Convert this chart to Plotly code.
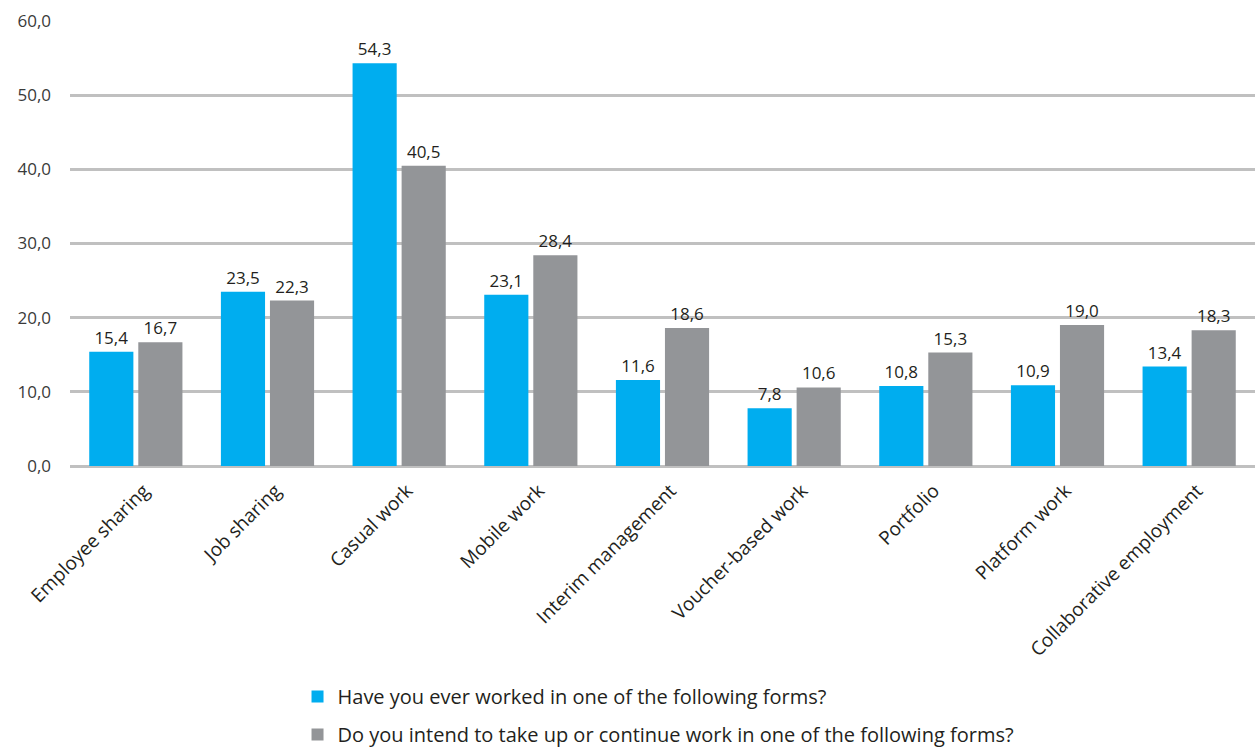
import plotly.graph_objects as go

categories = [
    "Employee sharing", "Job sharing", "Casual work", "Mobile work",
    "Interim management", "Voucher-based work", "Portfolio",
    "Platform work", "Collaborative employment",
]
ever_worked = [15.4, 23.5, 54.3, 23.1, 11.6, 7.8, 10.8, 10.9, 13.4]
intend_work = [16.7, 22.3, 40.5, 28.4, 18.6, 10.6, 15.3, 19.0, 18.3]

series_names = [
    "Have you ever worked in one of the following forms?",
    "Do you intend to take up or continue work in one of the following forms?",
]
y_ticks = [0, 10, 20, 30, 40, 50, 60]

FONT = "Open Sans"
TEXT_DARK = "#231f20"

fig = go.Figure()
for name, vals, color, grp in [
    (series_names[0], ever_worked, "#00adef", "a"),
    (series_names[1], intend_work, "#939598", "b"),
]:
    fig.add_trace(go.Bar(
        x=categories, y=vals, name=name, marker_color=color,
        marker_line_width=0, legendgroup=grp,
        texttemplate="%{y:.1f}", textposition="outside", cliponaxis=False,
        textfont=dict(family=FONT, size=17, color=TEXT_DARK),
    ))

fig.update_layout(
    width=1255, height=751,
    margin=dict(l=70, r=0, t=21, b=285, autoexpand=False),
    paper_bgcolor="white", plot_bgcolor="white",
    separators=",.",
    barmode="group", bargap=0.255, bargroupgap=0.1,
    font=dict(family=FONT, color="#3a3a3a"),
    showlegend=True,
    legend=dict(
        orientation="v", x=0.192, xanchor="left", y=-0.474, yanchor="top",
        font=dict(family=FONT, size=20, color=TEXT_DARK),
        tracegroupgap=9, itemwidth=30,
    ),
)
fig.update_yaxes(
    range=[0, 60], tickvals=y_ticks, tickformat=".1f", automargin=False,
    showgrid=True, gridcolor="#c0c0c0", gridwidth=3,
    zeroline=True, zerolinecolor="#c0c0c0", zerolinewidth=3,
    showline=False, ticks="", ticklabelstandoff=18,
    tickfont=dict(family=FONT, size=17, color="#3a3a3a"),
)
fig.update_xaxes(
    tickangle=-45, showgrid=False, showline=False, ticks="", automargin=False,
    ticklabelstandoff=9, ticklabelshift=8,
    tickfont=dict(family=FONT, size=19, color=TEXT_DARK),
)

fig.write_html("out.html")
